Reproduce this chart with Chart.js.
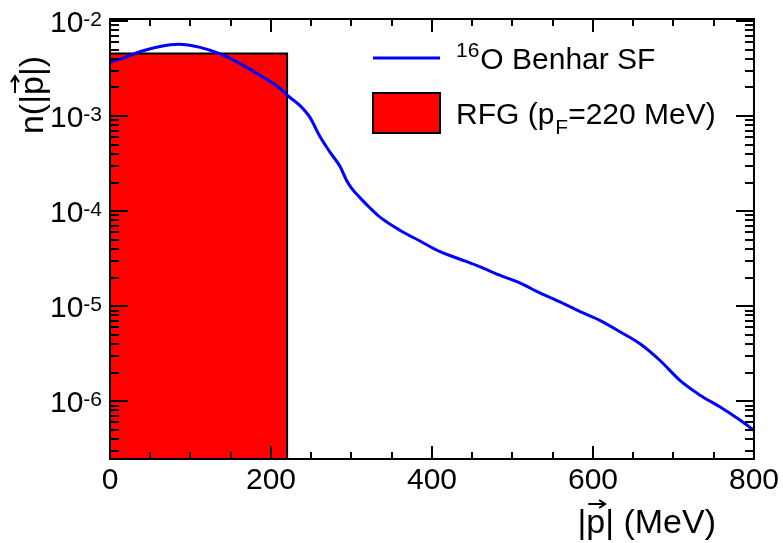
<!DOCTYPE html>
<html><head><meta charset="utf-8">
<script src="https://cdn.jsdelivr.net/npm/chart.js@4/dist/chart.umd.min.js"></script>
<style>html,body{margin:0;padding:0;background:#fff;overflow:hidden}canvas{display:block}</style>
</head><body>
<canvas id="c" width="783" height="543"></canvas>
<script>
// ---- data ----
const pMomentum = [0,12,37,62,85,112,137,161,186,211,220,236,248,261,273,286,294,300,311,323,335,360,385,410,435,460,484,509,534,559,584,609,634,658,683,708,733,758,783,800];
const benharSF  = [3.73e-3,3.95e-3,4.75e-3,5.40e-3,5.70e-3,5.28e-3,4.50e-3,3.59e-3,2.70e-3,1.96e-3,1.66e-3,1.29e-3,9.8e-4,6.05e-4,4.21e-4,2.93e-4,2.10e-4,1.75e-4,1.37e-4,1.08e-4,8.7e-5,6.3e-5,4.85e-5,3.75e-5,3.12e-5,2.59e-5,2.12e-5,1.76e-5,1.38e-5,1.11e-5,8.75e-6,7.06e-6,5.36e-6,4.05e-6,2.70e-6,1.66e-6,1.16e-6,8.7e-7,6.31e-7,4.95e-7];
const rfgEdges  = [0, 220];          // Fermi sphere: 0 .. p_F
const rfgDensity = [1/220];          // flat momentum density
const xTickLabels = ['0','200','400','600','800'];
const yDecades = [-2,-3,-4,-5,-6];
const seriesNames = ['O Benhar SF','RFG'];

const FONT = '"Liberation Sans", Arial, Helvetica, sans-serif';
const Y_MIN = 2.47e-7, Y_MAX = 1.05e-2;

const rfgPoly = [
  {x: rfgEdges[0], y: Y_MIN},
  {x: rfgEdges[0], y: rfgDensity[0]},
  {x: rfgEdges[1], y: rfgDensity[0]},
  {x: rfgEdges[1], y: Y_MIN}
];

const decor = {
  id: 'decor',
  afterDraw(chart) {
    const ctx = chart.ctx, a = chart.chartArea, xs = chart.scales.x, ys = chart.scales.y;
    ctx.save();
    ctx.strokeStyle = '#000';
    ctx.lineWidth = 2;
    // frame
    ctx.strokeRect(a.left, a.top, a.right - a.left, a.bottom - a.top);
    // x ticks (inside, top and bottom)
    ctx.beginPath();
    for (let v = xs.min; v <= xs.max + 1e-9; v += 50) {
      const px = Math.round(xs.getPixelForValue(v));
      const len = (v % 200 === 0) ? 13 : 7;
      ctx.moveTo(px, a.bottom); ctx.lineTo(px, a.bottom - len);
      ctx.moveTo(px, a.top); ctx.lineTo(px, a.top + len);
    }
    // y ticks (log: 1..9 x 10^n)
    for (let e = -7; e <= -2; e++) {
      for (let m = 1; m <= 9; m++) {
        const v = m * Math.pow(10, e);
        if (v < ys.min || v > ys.max) continue;
        const py = Math.round(ys.getPixelForValue(v));
        const len = (m === 1) ? 18 : 9;
        ctx.moveTo(a.left, py); ctx.lineTo(a.left + len, py);
        ctx.moveTo(a.right, py); ctx.lineTo(a.right - len, py);
      }
    }
    ctx.stroke();

    // y tick labels 10^n
    ctx.fillStyle = '#000';
    ctx.textBaseline = 'alphabetic';
    yDecades.forEach(d => {
      const py = ys.getPixelForValue(Math.pow(10, d));
      ctx.font = '21px ' + FONT;
      const exp = String(d);
      const we = ctx.measureText(exp).width;
      ctx.textAlign = 'right';
      ctx.fillText(exp, 102, py + 5);
      ctx.font = '30px ' + FONT;
      ctx.fillText('10', 102 - we, py + 11);
    });

    // x-axis title |p| (MeV) with vector arrow
    ctx.font = '34px ' + FONT;
    ctx.textAlign = 'left';
    const xt = '|p| (MeV)';
    const wx = ctx.measureText(xt).width;
    const x0 = a.right - 38 - wx, yb = 533;
    ctx.fillText(xt, x0, yb);
    const pL = x0 + ctx.measureText('|').width + 2, pR = pL + ctx.measureText('p').width - 2;
    drawArrow(ctx, pL, yb - 29, pR, yb - 29);

    // y-axis title n(|p|) rotated
    ctx.save();
    ctx.translate(43, 95);
    ctx.rotate(-Math.PI / 2);
    ctx.font = '34px ' + FONT;
    const yt = 'n(|p|)';
    const wy = ctx.measureText(yt).width;
    const u0 = -wy / 2;
    ctx.fillText(yt, u0, 0);
    const qL = u0 + ctx.measureText('n(|').width + 2, qR = qL + ctx.measureText('p').width - 2;
    drawArrow(ctx, qL, -28, qR, -28);
    ctx.restore();

    // legend
    const lx0 = 373, lx1 = 440, tx = 456;
    ctx.strokeStyle = '#0000ff'; ctx.lineWidth = 3;
    ctx.beginPath(); ctx.moveTo(lx0, 58); ctx.lineTo(lx1, 58); ctx.stroke();
    ctx.fillStyle = '#000';
    ctx.font = '21px ' + FONT;
    ctx.fillText('16', tx, 57);
    const w16 = ctx.measureText('16').width;
    ctx.font = '30px ' + FONT;
    ctx.fillText(seriesNames[0], tx + w16 + 1, 69);

    ctx.fillStyle = '#ff0000';
    ctx.fillRect(lx0, 93, lx1 - lx0, 40);
    ctx.strokeStyle = '#000'; ctx.lineWidth = 2;
    ctx.strokeRect(lx0, 93, lx1 - lx0, 40);
    ctx.fillStyle = '#000';
    ctx.font = '30px ' + FONT;
    const s1 = seriesNames[1] + ' (p';
    ctx.fillText(s1, tx, 124);
    let cx = tx + ctx.measureText(s1).width;
    ctx.font = '21px ' + FONT;
    ctx.fillText('F', cx + 1, 134);
    cx += ctx.measureText('F').width + 1;
    ctx.font = '30px ' + FONT;
    ctx.fillText('=220 MeV)', cx, 124);
    ctx.restore();
  }
};

function drawArrow(ctx, x1, y1, x2, y2) {
  ctx.save();
  ctx.strokeStyle = '#000'; ctx.lineWidth = 2;
  ctx.beginPath();
  ctx.moveTo(x1, y1); ctx.lineTo(x2, y2);
  ctx.moveTo(x2 - 6, y2 - 4); ctx.lineTo(x2, y2); ctx.lineTo(x2 - 6, y2 + 4);
  ctx.stroke();
  ctx.restore();
}

new Chart(document.getElementById('c'), {
  type: 'line',
  data: {
    datasets: [
      {
        label: seriesNames[0],
        data: pMomentum.map((p, i) => ({x: p, y: benharSF[i]})),
        borderColor: '#0000ff', borderWidth: 3,
        pointRadius: 0, fill: false, tension: 0.3,
        cubicInterpolationMode: 'monotone', order: 0
      },
      {
        label: seriesNames[1],
        data: rfgPoly,
        borderColor: '#000', borderWidth: 2,
        backgroundColor: '#ff0000',
        pointRadius: 0, fill: 'start', tension: 0, order: 1
      }
    ]
  },
  options: {
    responsive: false, animation: false, devicePixelRatio: 1,
    layout: {padding: {top: 19, right: 29, bottom: 0, left: 0}},
    plugins: {legend: {display: false}, tooltip: {enabled: false}},
    scales: {
      x: {
        type: 'linear', min: 0, max: 800,
        grid: {display: false, drawTicks: false}, border: {display: false},
        ticks: {stepSize: 200, color: '#000', font: {size: 30, family: FONT}, padding: 4, maxRotation: 0,
                callback: (v) => xTickLabels[xTickLabels.indexOf(String(v))] ?? ''},
        afterFit: (s) => { s.height = 84; }
      },
      y: {
        type: 'logarithmic', min: Y_MIN, max: Y_MAX,
        grid: {display: false, drawTicks: false}, border: {display: false},
        ticks: {display: false},
        afterFit: (s) => { s.width = 110; }
      }
    }
  },
  plugins: [decor]
});
</script>
</body></html>
